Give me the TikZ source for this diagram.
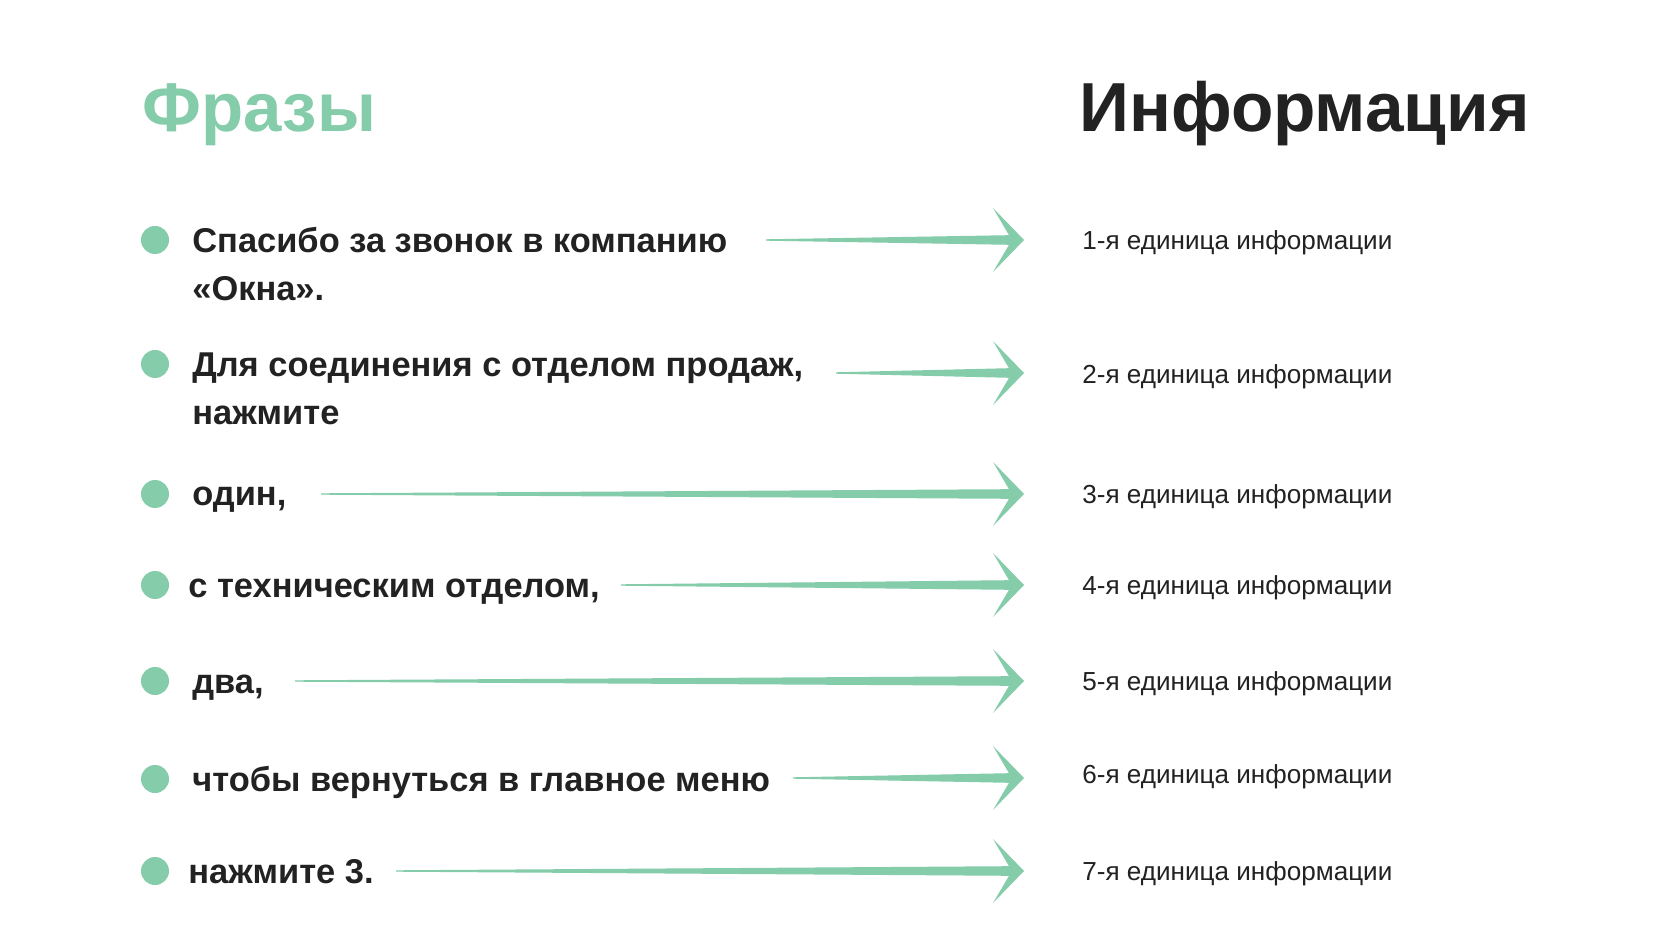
\documentclass[tikz,border=0pt]{standalone}
\usepackage{fontspec}
\setmainfont{Liberation Sans}
\usetikzlibrary{calc}
\definecolor{mint}{RGB}{132,204,170}
\definecolor{ink}{RGB}{34,34,34}
\tikzset{
  phrase/.style={anchor=base west,inner sep=0pt,align=left,text=ink,
    font=\fontsize{19.6}{27.8}\selectfont\bfseries},
  info/.style={anchor=base west,inner sep=0pt,text=ink,
    font=\fontsize{14.85}{17}\selectfont},
  dot/.style={fill=mint}
}
% tapered arrow: #1 tail, #2 tip
\newcommand{\strelka}[2]{%
  \fill[mint] ($(#1)+(0,-0.7)$) -- ($(#2)+(-15,-4.8)$) -- ($(#2)+(-31,-32)$)
    -- (#2) -- ($(#2)+(-31,32)$) -- ($(#2)+(-15,4.8)$) -- ($(#1)+(0,0.7)$) -- cycle;}
\begin{document}
\begin{tikzpicture}[x=0.02cm,y=-0.02cm,line cap=round,line join=round]
  \useasboundingbox (0,0) rectangle (1680,945);
  \fill[white] (0,0) rectangle (1680,945);
  % headings
  \node[anchor=base west,inner sep=0pt,text=mint,font=\fontsize{39.3}{40}\selectfont\bfseries]
    (phrases) at (142,132) {Фразы};
  \node[anchor=base west,inner sep=0pt,text=ink,font=\fontsize{39.5}{40}\selectfont\bfseries]
    (infohead) at (1079,132) {Информация};
  % bullets and phrases
  \foreach \n/\y in {1/240,2/364,3/494,4/585,5/681,6/779,7/871}
    \fill[dot] (155,\y) circle (14);
  \node[phrase] (p1) at (192,301) {Спасибо за звонок в компанию\\«Окна».};
  \node[phrase] (p2) at (192,425) {Для соединения с отделом продаж,\\нажмите};
  \node[phrase] (p3) at (192,506) {один,};
  \node[phrase] (p4) at (188,597) {с техническим отделом,};
  \node[phrase] (p5) at (192,693) {два,};
  \node[phrase] (p6) at (192,791) {чтобы вернуться в главное меню};
  \node[phrase] (p7) at (188,883) {нажмите 3.};
  % arrows and units of information
  \foreach \n/\y/\sx/\b in {1/240/766/250,2/373/836/384,3/494/321/503,4/585/621/594,
      5/681/295/690,6/778/793/783,7/871/396/880}{
    \coordinate (s\n) at (\sx,\y);
    \coordinate (t\n) at (1024,\y);
    \node[info] (i\n) at (1082,\b) {\n-я единица информации};
    \strelka{s\n}{t\n}
  }
\end{tikzpicture}
\end{document}
